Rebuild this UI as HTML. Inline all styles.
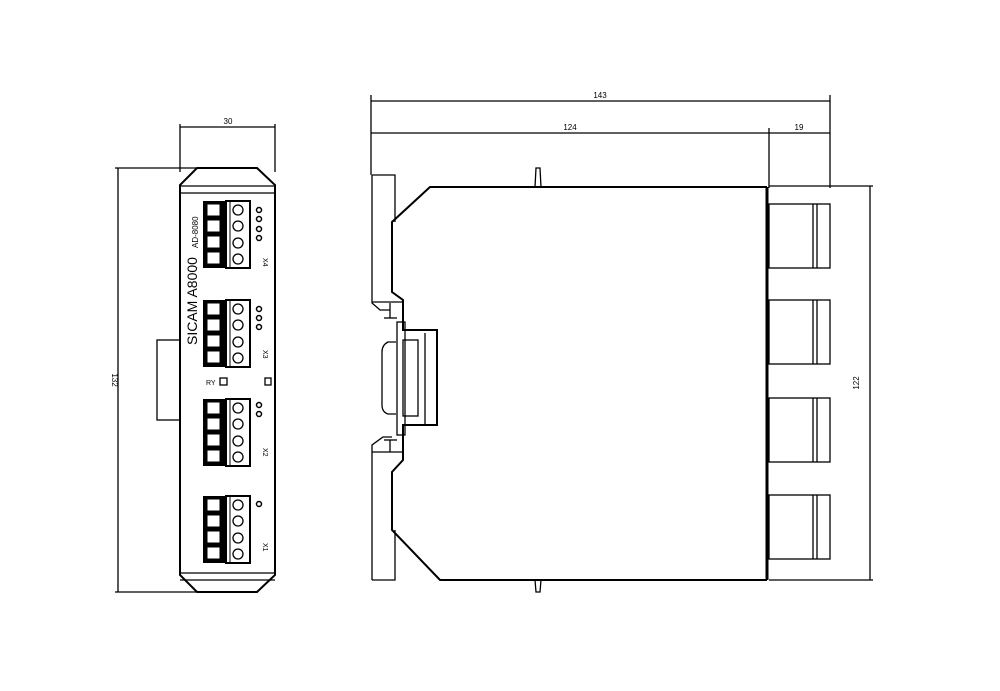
<!DOCTYPE html>
<html><head><meta charset="utf-8"><style>
html,body{margin:0;padding:0;background:#fff;}
svg{display:block;}
text{font-family:"Liberation Sans",sans-serif;fill:#000;}
</style></head><body>
<svg width="1000" height="691" viewBox="0 0 1000 691" xmlns="http://www.w3.org/2000/svg">
<g fill="none" stroke="#000" stroke-width="1.3">
<!-- FRONT VIEW dimensions -->
<line x1="180" y1="124" x2="180" y2="172"/>
<line x1="275" y1="124" x2="275" y2="172"/>
<line x1="180" y1="127" x2="275" y2="127"/>
<line x1="115" y1="168" x2="197" y2="168"/>
<line x1="115" y1="592" x2="197" y2="592"/>
<line x1="118" y1="168" x2="118" y2="592"/>
<!-- body -->
<path d="M197 168 L257 168 L275 185 L275 575 L257 592 L197 592 L180 575 L180 185 Z" stroke-width="2"/>
<line x1="180" y1="186" x2="275" y2="186"/>
<line x1="180" y1="193" x2="275" y2="193"/>
<line x1="180" y1="573" x2="275" y2="573"/>
<line x1="180" y1="580" x2="275" y2="580"/>
<rect x="157" y="340" width="23" height="80"/>
<!-- RY -->
<rect x="220" y="378" width="7" height="7"/>
<rect x="265" y="378" width="6" height="7"/>
</g>
<!-- terminal blocks front -->
<g id="tb">
<rect x="203" y="201" width="23" height="67" fill="#000"/>
<g fill="#fff" stroke="#000" stroke-width="1">
<rect x="207" y="204" width="13" height="12"/><rect x="207" y="220" width="13" height="12"/>
<rect x="207" y="236" width="13" height="12"/><rect x="207" y="252" width="13" height="12"/>
</g>
<rect x="226" y="201" width="24" height="67" fill="#fff" stroke="#000" stroke-width="2"/>
<line x1="230" y1="201" x2="230" y2="268" stroke="#000"/>
<g fill="#fff" stroke="#000" stroke-width="1.3">
<circle cx="238" cy="210" r="5"/><circle cx="238" cy="226" r="5"/><circle cx="238" cy="243" r="5"/><circle cx="238" cy="259" r="5"/>
</g>
</g>
<use href="#tb" transform="translate(0,99)"/>
<use href="#tb" transform="translate(0,198)"/>
<use href="#tb" transform="translate(0,295)"/>
<g fill="none" stroke="#000" stroke-width="1.5">
<circle cx="259" cy="210" r="2.5"/><circle cx="259" cy="219" r="2.5"/><circle cx="259" cy="229" r="2.5"/><circle cx="259" cy="238" r="2.5"/>
<circle cx="259" cy="309" r="2.5"/><circle cx="259" cy="318" r="2.5"/><circle cx="259" cy="327" r="2.5"/>
<circle cx="259" cy="405" r="2.5"/><circle cx="259" cy="414" r="2.5"/>
<circle cx="259" cy="504" r="2.5"/>
</g>
<g font-size="7">
<text x="0" y="0" transform="translate(263,258) rotate(90)">X4</text>
<text x="0" y="0" transform="translate(263,350) rotate(90)">X3</text>
<text x="0" y="0" transform="translate(263,448) rotate(90)">X2</text>
<text x="0" y="0" transform="translate(263,543) rotate(90)">X1</text>
<text x="206" y="385">RY</text>
</g>
<text transform="translate(197,345) rotate(-90)" font-size="14">SICAM  A8000</text>
<text transform="translate(198,248) rotate(-90)" font-size="8">AD-8080</text>
<text x="228" y="124" font-size="8" text-anchor="middle">30</text>
<text transform="translate(112,380) rotate(90)" font-size="8" text-anchor="middle">132</text>

<!-- SIDE VIEW -->
<g fill="none" stroke="#000" stroke-width="1.3">
<line x1="371" y1="95" x2="371" y2="175"/>
<line x1="830" y1="95" x2="830" y2="188"/>
<line x1="371" y1="101" x2="830" y2="101"/>
<line x1="371" y1="133" x2="830" y2="133"/>
<line x1="769" y1="128" x2="769" y2="188"/>
<line x1="769" y1="186" x2="873" y2="186"/>
<line x1="769" y1="580" x2="873" y2="580"/>
<line x1="870" y1="186" x2="870" y2="580"/>
<!-- back plate -->
<path d="M372 175 L395 175 L395 222"/>
<path d="M372 175 L372 303 L380 310 L390 310"/>
<path d="M372 580 L395 580 L395 530"/>
<path d="M372 580 L372 445 L383 437 L392 437"/>
<line x1="372" y1="302" x2="404" y2="302"/>
<line x1="372" y1="452" x2="404" y2="452"/>
<!-- body -->
<path d="M767 187 L430 187 L392 222 L392 292 L403 300 L403 330 L437 330 L437 425 L403 425 L403 460 L392 472 L392 530 L440 580 L767 580" stroke-width="2"/>
<line x1="767" y1="187" x2="767" y2="580" stroke-width="3"/>
<!-- DIN rail -->
<rect x="397" y="322" width="8" height="113"/>
<rect x="403" y="340" width="15" height="76"/>
<path d="M396 342 L388 342 Q382 345 382 352 L382 405 Q382 412 388 414 L396 414"/>
<line x1="425" y1="333" x2="425" y2="425"/>
<line x1="384" y1="318" x2="397" y2="318"/>
<line x1="384" y1="440" x2="397" y2="440"/>
<line x1="390" y1="303" x2="390" y2="318"/>
<line x1="390" y1="440" x2="390" y2="452"/>
<!-- tabs -->
<path d="M535 187 L536 168 L540 168 L541 187"/>
<path d="M535 580 L536 592 L540 592 L541 580"/>
</g>
<g id="cn" fill="none" stroke="#000" stroke-width="1.3">
<rect x="769" y="204" width="61" height="64"/>
<line x1="813" y1="204" x2="813" y2="268"/>
<line x1="817" y1="204" x2="817" y2="268"/>
</g>
<use href="#cn" transform="translate(0,96)"/>
<use href="#cn" transform="translate(0,194)"/>
<use href="#cn" transform="translate(0,291)"/>
<text x="600" y="98" font-size="8" text-anchor="middle">143</text>
<text x="570" y="130" font-size="8" text-anchor="middle">124</text>
<text x="799" y="130" font-size="8" text-anchor="middle">19</text>
<text transform="translate(859,383) rotate(-90)" font-size="8" text-anchor="middle">122</text>
</svg>
</body></html>
